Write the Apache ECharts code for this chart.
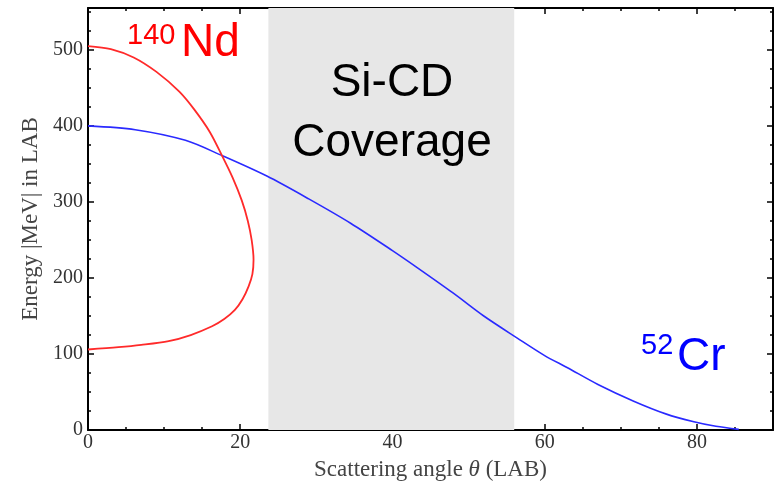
<!DOCTYPE html>
<html>
<head>
<meta charset="utf-8">
<script src="https://cdn.jsdelivr.net/npm/echarts@6/dist/echarts.min.js"></script>
<style>html,body{margin:0;padding:0;background:#fff}#c{width:776px;height:486px}</style>
</head>
<body>
<div id="c"></div>
<script>
// 140Nd kinematic curve (upper branch then lower branch)
var ndTheta  = [0, 3, 6, 9, 12, 14, 16, 17.6, 19, 20.2, 21, 21.5, 21.75, 21.6, 21.1, 20.3, 19.3, 17.9, 16.3, 13.5, 10.6, 7, 4, 0];
var ndEnergy = [505, 501, 490, 471, 445, 421, 392, 361, 332, 302, 275, 250, 224, 205, 189, 172, 158, 146, 136.5, 125, 117, 112, 109, 106];
// 52Cr kinematic curve
var crTheta  = [0, 6.2, 12.8, 17.6, 23.5, 29, 34.5, 40, 43.2, 48, 52, 56.4, 60, 63, 67, 71.7, 76, 79.6, 82.5, 85.5];
var crEnergy = [400, 395, 381, 361, 334, 304, 272, 236, 214, 180, 150, 121, 98, 82, 60, 38, 21, 11, 5, 1];
// Si-CD coverage range (degrees)
var coverage = [23.7, 56];
var xTickLabels = [0, 20, 40, 60, 80];
var yTickLabels = [0, 100, 200, 300, 400, 500];

function pairs(a, b) { return a.map(function (v, i) { return [v, b[i]]; }); }

var chart = echarts.init(document.getElementById('c'));
var serif = 'Liberation Serif';
var sans = 'Liberation Sans';
function axisCommon(showLabels, list) {
  return {
    axisLine: { show: true, onZero: false, lineStyle: { color: '#000', width: 2 } },
    axisTick: { show: true, inside: true, length: 6, lineStyle: { color: '#000', width: 1.5 } },
    minorTick: { show: true, splitNumber: 4, length: 3, lineStyle: { color: '#000', width: 1.5 } },
    splitLine: { show: false },
    axisLabel: {
      show: showLabels, fontFamily: serif, fontSize: 20, color: '#333',
      formatter: function (v) { return list.indexOf(v) >= 0 ? String(v) : ''; }
    }
  };
}
var xb = Object.assign({ type: 'value', min: 0, max: 90, interval: 20, position: 'bottom',
  name: '{a|Scattering angle }{i|θ}{a| (LAB)}', nameLocation: 'middle', nameGap: 22,
  nameTextStyle: { rich: { a: { fontFamily: serif, fontSize: 23, color: '#444' }, i: { fontFamily: serif, fontSize: 23, fontStyle: 'italic', color: '#444' } } }
}, axisCommon(true, xTickLabels));
xb.axisLabel.margin = 3;
var xt = Object.assign({ type: 'value', min: 0, max: 90, interval: 20, position: 'top' }, axisCommon(false, xTickLabels));
var yl = Object.assign({ type: 'value', min: 0, max: 555, interval: 100, position: 'left',
  name: 'Energy |MeV| in LAB', nameLocation: 'middle', nameGap: 45,
  nameTextStyle: { fontFamily: serif, fontSize: 23, color: '#444' }
}, axisCommon(true, yTickLabels));
yl.axisLabel.margin = 5;
var yr = Object.assign({ type: 'value', min: 0, max: 555, interval: 100, position: 'right' }, axisCommon(false, yTickLabels));

chart.setOption({
  animation: false,
  grid: { left: 88, right: 3, top: 8, bottom: 55, containLabel: false },
  xAxis: [xb, xt],
  yAxis: [yl, yr],
  series: [
    {
      type: 'line', xAxisIndex: 0, yAxisIndex: 0, data: [], z: 1,
      markArea: { silent: true, itemStyle: { color: '#e7e7e7' }, data: [[{ xAxis: coverage[0] }, { xAxis: coverage[1] }]] }
    },
    {
      name: '52Cr', type: 'line', xAxisIndex: 0, yAxisIndex: 0, data: pairs(crTheta, crEnergy),
      showSymbol: false, smooth: 0.3, z: 3, lineStyle: { color: '#2a2aff', width: 1.6 }
    },
    {
      name: '140Nd', type: 'line', xAxisIndex: 0, yAxisIndex: 0, data: pairs(ndTheta, ndEnergy),
      showSymbol: false, smooth: 0.3, z: 3, lineStyle: { color: '#ff2a2a', width: 1.8 }
    }
  ],
  graphic: [
    { type: 'text', left: 127, top: 21, z: 10, style: { text: '140', font: '29px "' + sans + '"', fill: '#ff0000' } },
    { type: 'text', left: 181, top: 20, z: 10, style: { text: 'Nd', font: '46px "' + sans + '"', fill: '#ff0000' } },
    { type: 'text', x: 392, y: 83, z: 10, style: { text: 'Si-CD', font: '46px "' + sans + '"', fill: '#000', align: 'center', verticalAlign: 'middle' } },
    { type: 'text', x: 392, y: 143, z: 10, style: { text: 'Coverage', font: '46px "' + sans + '"', fill: '#000', align: 'center', verticalAlign: 'middle' } },
    { type: 'text', left: 641, top: 331, z: 10, style: { text: '52', font: '29px "' + sans + '"', fill: '#0000ff' } },
    { type: 'text', left: 677, top: 334, z: 10, style: { text: 'Cr', font: '46px "' + sans + '"', fill: '#0000ff' } }
  ]
});
</script>
</body>
</html>
